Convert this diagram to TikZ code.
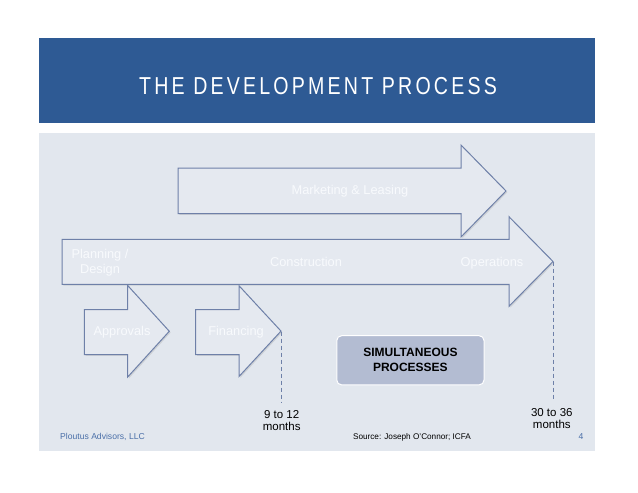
\documentclass[tikz,border=0pt]{standalone}
\usepackage{fontspec}
\setmainfont{Liberation Sans}
\newfontfamily\titlefont[FakeStretch=0.80,LetterSpace=13]{Liberation Sans}
\usetikzlibrary{calc}
\definecolor{bandblue}{HTML}{2E5A94}
\definecolor{panel}{HTML}{E2E7EE}
\definecolor{arrowfill}{HTML}{E5E9F0}
\definecolor{arrowline}{HTML}{6E80A8}
\definecolor{boxfill}{HTML}{B3BCD2}
\definecolor{footblue}{HTML}{4A6FA8}
\definecolor{lbl}{HTML}{F8FAFD}
\tikzset{
  arrbody/.style={fill=arrowfill, draw=arrowline, line width=1pt, line join=miter},
  arrshadow/.style={fill=black!45, opacity=0.25},
  arrlabel/.style={text=lbl, font=\fontsize{12.8}{15}\selectfont, inner sep=0pt, align=center},
  monthlbl/.style={text=black, font=\fontsize{11.5}{12.7}\selectfont, inner sep=0pt, align=center},
  footlbl/.style={font=\fontsize{8.6}{10}\selectfont, inner sep=0pt},
  dashline/.style={draw=arrowline, line width=1pt, dash pattern=on 4pt off 3pt},
}
% x0, ytop, ybot, xhead, headtop, headbot, xtip
\newcommand\procarrow[7]{%
  \pgfmathsetmacro\ymid{(#5+#6)/2}%
  \path[arrshadow, shift={(1.3,1.3)}] (#1,#2) -- (#4,#2) -- (#4,#5) -- (#7,\ymid) -- (#4,#6) -- (#4,#3) -- (#1,#3) -- cycle;
  \path[arrbody] (#1,#2) -- (#4,#2) -- (#4,#5) -- (#7,\ymid) -- (#4,#6) -- (#4,#3) -- (#1,#3) -- cycle;
}
\begin{document}
\begin{tikzpicture}[x=1pt,y=-1pt]
\useasboundingbox (0,0) rectangle (638,493);
\fill[white] (0,0) rectangle (638,493);
% title band
\fill[bandblue] (39,38.3) rectangle (595,123.3);
\node[text=white, font=\titlefont\fontsize{24.5}{27}\selectfont, inner sep=0pt] (title) at (318,86.2) {THE DEVELOPMENT PROCESS};
% panel
\fill[panel] (39,132.7) rectangle (595,451);
% arrows
\procarrow{178}{168}{213.5}{461}{145}{237}{506}
\procarrow{62}{239.3}{284.3}{509}{216.7}{306.3}{553}
\procarrow{84.3}{309.5}{354.5}{127.7}{285.5}{377}{169.3}
\procarrow{195.7}{309.5}{354.5}{239}{285.7}{376.5}{281}
% labels
\node[arrlabel] (mkt) at (350,191) {Marketing \& Leasing};
\node[arrlabel] (plan) at (100,262.5) {Planning /\\Design};
\node[arrlabel] (cons) at (306,262) {Construction};
\node[arrlabel] (ops) at (492,263) {Operations};
\node[arrlabel] (appr) at (122,332) {Approvals};
\node[arrlabel] (fin) at (236,332) {Financing};
% simultaneous box
\node[fill=boxfill, draw=white, line width=1pt, rounded corners=5pt,
      minimum width=147.3pt, minimum height=49.3pt, inner sep=0pt, align=center,
      font=\bfseries\fontsize{12}{15}\selectfont] (simul) at (410.4,360.3) {SIMULTANEOUS\\PROCESSES};
% dashed markers
\coordinate (fintip) at (281,331.7);
\coordinate (finend) at (281,403);
\coordinate (maintip) at (553,261.7);
\coordinate (mainend) at (553,401);
\draw[dashline] (fintip) -- (finend);
\draw[dashline] (maintip) -- (mainend);
\node[monthlbl] (m1) at (281.7,420.5) {9 to 12\\months};
\node[monthlbl] (m2) at (551.8,418.5) {30 to 36\\months};
% footer
\node[footlbl, text=footblue, anchor=west] (firm) at (60,437) {Ploutus Advisors, LLC};
\node[footlbl, text=black, font=\fontsize{8.2}{10}\selectfont] (src) at (412,437) {Source: Joseph O'Connor; ICFA};
\node[footlbl, text=footblue] (pg) at (581,437) {4};
\end{tikzpicture}
\end{document}
